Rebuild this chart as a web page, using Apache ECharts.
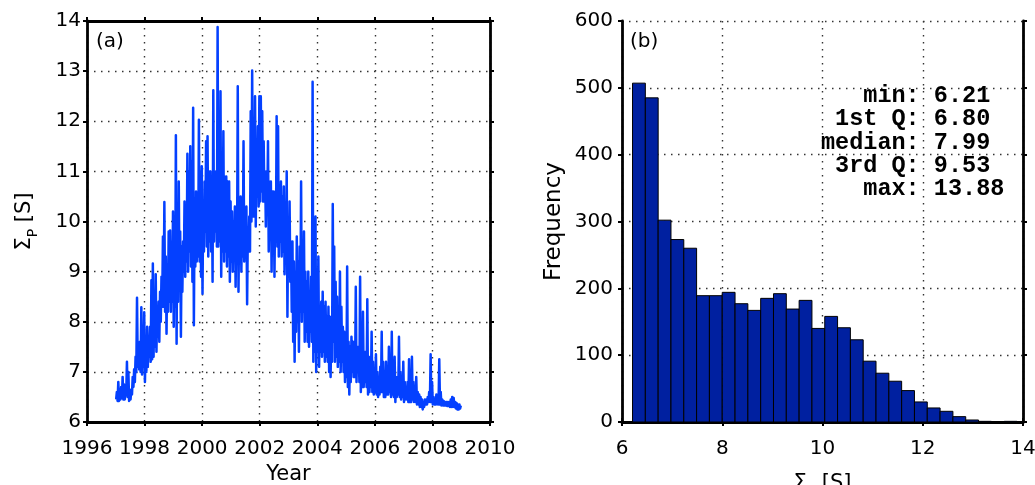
<!DOCTYPE html>
<html>
<head>
<meta charset="utf-8">
<script src="https://cdn.jsdelivr.net/npm/echarts@6/dist/echarts.min.js"></script>
<style>
  html, body { margin: 0; padding: 0; background: #fff; }
  #chart { width: 1035px; height: 485px; }
</style>
</head>
<body>
<div id="chart"></div>
<script>
// Daily Pedersen conductance, 1997-2009: lowest and highest value (S)
// within each 0.05-year window, starting at bandStartYear.
const bandStartYear = 1997.0;
const bandStep = 0.05;
const bandLow = [
  6.45,6.42,6.42,6.45,6.48,6.45,6.45,6.55,6.50,6.42,   // 1997.0
  6.45,6.55,6.70,6.80,7.00,7.10,7.05,7.00,6.95,7.10,   // 1997.5
  6.80,7.00,7.10,7.30,7.20,7.25,7.30,7.50,7.40,7.70,   // 1998.0
  7.60,8.00,8.30,8.30,8.20,7.76,8.20,8.40,8.20,8.40,   // 1998.5
  7.90,8.30,7.56,8.40,8.80,7.70,8.60,9.00,8.90,9.20,   // 1999.0
  9.00,9.40,9.10,8.80,7.93,9.10,9.20,9.30,9.20,8.90,   // 1999.5
  8.56,9.40,9.80,9.50,9.30,9.60,9.40,8.80,9.60,9.80,   // 2000.0
  9.50,9.50,9.60,8.90,9.40,9.20,9.40,9.10,9.30,8.80,   // 2000.5
  9.20,9.00,9.40,8.70,9.40,8.60,9.20,9.00,9.30,9.20,   // 2001.0
  9.30,8.35,9.40,9.40,10.00,10.10,10.10,9.90,10.50,10.30, // 2001.5
  10.40,10.60,10.40,10.40,9.90,10.20,9.40,9.90,9.00,9.50, // 2002.0
  8.90,9.60,9.50,9.30,9.60,9.30,9.40,8.95,9.20,8.10,   // 2002.5
  8.90,8.80,8.20,7.60,7.20,7.80,8.00,7.40,8.20,8.00,   // 2003.0
  8.20,7.60,7.80,7.60,7.50,7.80,7.60,7.20,7.40,7.00,   // 2003.5
  7.40,7.10,7.40,7.30,7.40,7.20,7.30,7.20,7.00,6.90,   // 2004.0
  7.20,7.60,7.20,7.30,7.10,7.20,7.00,7.20,7.00,6.80,   // 2004.5
  6.90,6.70,6.55,6.80,7.00,6.90,6.90,6.80,7.00,6.80,   // 2005.0
  6.60,6.70,6.70,6.80,6.70,6.55,6.60,6.70,6.60,6.55,   // 2005.5
  6.60,6.55,6.50,6.55,6.60,6.60,6.50,6.50,6.55,6.55,   // 2006.0
  6.60,6.50,6.55,6.50,6.40,6.50,6.55,6.50,6.45,6.50,   // 2006.5
  6.40,6.45,6.45,6.40,6.40,6.40,6.45,6.40,6.40,6.35,   // 2007.0
  6.35,6.30,6.30,6.25,6.30,6.35,6.35,6.40,6.40,6.40,   // 2007.5
  6.35,6.35,6.35,6.35,6.35,6.35,6.33,6.33,6.33,6.33,   // 2008.0
  6.32,6.32,6.30,6.30,6.30,6.30,6.27,6.25,6.25,6.27    // 2008.5
];
const bandHigh = [
  6.60,6.80,6.65,6.70,6.90,6.75,6.60,7.20,7.00,6.60,
  6.65,6.90,7.05,7.30,8.48,7.50,7.60,8.29,7.60,8.19,
  7.50,7.90,7.70,7.90,8.83,9.16,8.50,8.95,8.30,8.40,
  8.60,8.90,9.70,10.39,9.30,9.10,9.80,9.82,9.60,10.20,
  9.40,11.72,10.30,10.80,9.80,9.50,9.60,10.40,10.20,11.35,
  11.00,11.50,11.20,12.27,10.20,10.60,10.40,12.03,11.00,11.10,
  10.40,10.80,11.60,11.70,11.00,11.00,10.90,12.62,10.80,11.00,
  13.88,11.20,12.60,10.90,11.80,10.90,10.90,10.80,10.80,10.40,
  10.20,10.00,10.30,9.90,12.70,10.20,10.50,10.00,11.60,10.20,
  10.30,9.80,10.10,12.20,13.01,11.80,12.50,11.60,11.90,12.50,
  12.50,12.20,11.60,11.00,11.00,11.60,10.80,10.80,10.60,10.60,
  10.40,12.10,11.90,10.60,10.80,10.50,10.70,10.30,11.00,10.00,
  10.40,9.60,9.60,9.20,9.00,9.70,9.20,9.50,10.80,9.50,
  9.80,9.00,8.80,9.00,8.60,8.90,12.79,9.00,10.10,8.60,
  9.30,8.20,8.40,8.60,8.30,8.40,8.10,8.30,8.10,8.00,
  10.35,9.50,8.80,8.50,8.20,9.00,8.30,7.90,7.80,7.60,
  9.10,7.60,7.50,7.70,7.60,7.60,8.70,7.50,7.50,8.90,
  7.20,8.20,7.40,7.40,8.45,7.10,7.30,7.80,7.20,7.00,
  7.35,7.00,6.90,7.10,7.80,7.20,6.90,7.20,7.00,7.50,
  7.00,7.80,7.10,7.30,6.90,6.90,7.70,7.00,6.90,7.20,
  6.80,6.70,6.80,7.25,6.70,7.30,6.80,6.70,6.90,6.60,
  6.55,6.50,6.45,6.40,6.45,6.45,6.50,6.60,7.35,6.80,
  6.50,6.45,6.55,6.50,7.25,6.60,6.45,6.42,6.40,6.40,
  6.40,6.40,6.45,6.50,6.48,6.40,6.38,6.35,6.35,6.33
];

// Histogram of Sigma_P: 30 equal bins spanning the observed range
const histCounts = [
  507,485,302,273,260,189,189,194,177,167,
  185,192,169,182,140,158,141,123,91,73,
  61,47,30,21,16,8,3,1,0,1
];
const statLabels = ['min', '1st Q', 'median', '3rd Q', 'max'];
const statValues = ['6.21', '6.80', '7.99', '9.53', '13.88'];
const sigmaMin = 6.21, sigmaMax = 13.88;

const yearTicks = { min: 1996, max: 2010, interval: 2 };
const sigmaTicks = { min: 6, max: 14, interval: 1 };
const histXTicks = { min: 6, max: 14, interval: 2 };
const freqTicks = { min: 0, max: 600, interval: 100 };

// Trace each window from its low to its high so the daily spread is filled
const seriesPoints = [];
bandLow.forEach((lo, i) => {
  const t = bandStartYear + i * bandStep;
  seriesPoints.push([t + bandStep * 0.25, lo]);
  seriesPoints.push([t + bandStep * 0.75, bandHigh[i]]);
});
const binWidth = (sigmaMax - sigmaMin) / histCounts.length;
const histBins = histCounts.map((c, i) => [sigmaMin + i * binWidth, sigmaMin + (i + 1) * binWidth, c]);

const FONT = '"DejaVu Sans", Verdana, sans-serif';
const tickFont = { fontFamily: FONT, fontSize: 20, color: '#000' };
const frame = { show: true, lineStyle: { color: '#000', width: 2.8 } };
const outTick = { show: true, inside: false, length: 4, lineStyle: { color: '#000', width: 2 } };
const dots = { show: true, lineStyle: { color: '#333', width: 1.4, type: [1.5, 5.5] } };

function sigmaRich(size) {
  return {
    s: { fontFamily: FONT, fontSize: size, lineHeight: 26, verticalAlign: 'top', color: '#000' },
    p: { fontFamily: FONT, fontSize: 14, lineHeight: 26, verticalAlign: 'bottom', padding: [14, 0, 0, 0], color: '#000' }
  };
}
function mainX(gi, t, name, gap, size) {
  return {
    type: 'value', gridIndex: gi, position: 'bottom', min: t.min, max: t.max, interval: t.interval,
    axisLine: frame, axisTick: outTick, splitLine: dots,
    axisLabel: Object.assign({ margin: 17, formatter: v => String(v) }, tickFont),
    name: name, nameLocation: 'middle', nameGap: gap,
    nameTextStyle: { fontFamily: FONT, fontSize: size, color: '#000', rich: sigmaRich(size) }
  };
}
function mirrorX(gi, t) {
  return { type: 'value', gridIndex: gi, position: 'top', min: t.min, max: t.max, interval: t.interval,
    axisLine: frame, axisTick: outTick, axisLabel: { show: false }, splitLine: { show: false } };
}
function mainY(gi, t, name, gap, margin, size) {
  return {
    type: 'value', gridIndex: gi, position: 'left', min: t.min, max: t.max, interval: t.interval,
    axisLine: frame, axisTick: outTick, splitLine: dots,
    axisLabel: Object.assign({ margin: margin }, tickFont),
    name: name, nameLocation: 'middle', nameGap: gap,
    nameTextStyle: { fontFamily: FONT, fontSize: size, color: '#000', rich: sigmaRich(size) }
  };
}
function mirrorY(gi, t) {
  return { type: 'value', gridIndex: gi, position: 'right', min: t.min, max: t.max, interval: t.interval,
    axisLine: frame, axisTick: outTick, axisLabel: { show: false }, splitLine: { show: false } };
}

const sigmaName = '{s|Σ}{p|P}{s| [S]}';

const chart = echarts.init(document.getElementById('chart'), null, { renderer: 'canvas' });
chart.setOption({
  animation: false,
  backgroundColor: '#fff',
  grid: [
    { left: 87, top: 21, width: 403, height: 401, containLabel: false, outerBoundsMode: 'none' },
    { left: 622, top: 21, width: 401, height: 401, containLabel: false, outerBoundsMode: 'none' }
  ],
  xAxis: [
    mainX(0, yearTicks, 'Year', 37, 21),
    mirrorX(0, yearTicks),
    mainX(1, histXTicks, sigmaName, 51, 21),
    mirrorX(1, histXTicks)
  ],
  yAxis: [
    mainY(0, sigmaTicks, sigmaName, 47, 6, 21),
    mirrorY(0, sigmaTicks),
    mainY(1, freqTicks, 'Frequency', 56, 9, 23),
    mirrorY(1, freqTicks)
  ],
  graphic: [
    { type: 'text', left: 96, top: 32, style: { text: '(a)', font: '20px ' + FONT, fill: '#000' }, z: 10 },
    { type: 'text', left: 630, top: 32, style: { text: '(b)', font: '20px ' + FONT, fill: '#000' }, z: 10 },
    { type: 'text', left: 821, top: 84, z: 10,
      style: {
        text: statLabels.map((l, i) => (l + ':').padStart(7) + ' ' + statValues[i]).join('\n'),
        font: 'bold 23.5px "Liberation Mono", "Courier New", monospace',
        lineHeight: 23.3, fill: '#000'
      } }
  ],
  series: [
    {
      type: 'line', xAxisIndex: 0, yAxisIndex: 0, data: seriesPoints,
      showSymbol: false, symbol: 'none',
      lineStyle: { color: '#0440ff', width: 2.5, join: 'round' }, z: 5
    },
    {
      type: 'custom', xAxisIndex: 2, yAxisIndex: 2, data: histBins,
      renderItem: function (params, api) {
        const a = api.coord([api.value(0), api.value(2)]);
        const b = api.coord([api.value(1), 0]);
        return { type: 'rect',
          shape: { x: a[0], y: a[1], width: b[0] - a[0], height: b[1] - a[1] },
          style: { fill: '#0020a0', stroke: '#000', lineWidth: 1 } };
      },
      z: 5
    }
  ]
});
</script>
</body>
</html>
